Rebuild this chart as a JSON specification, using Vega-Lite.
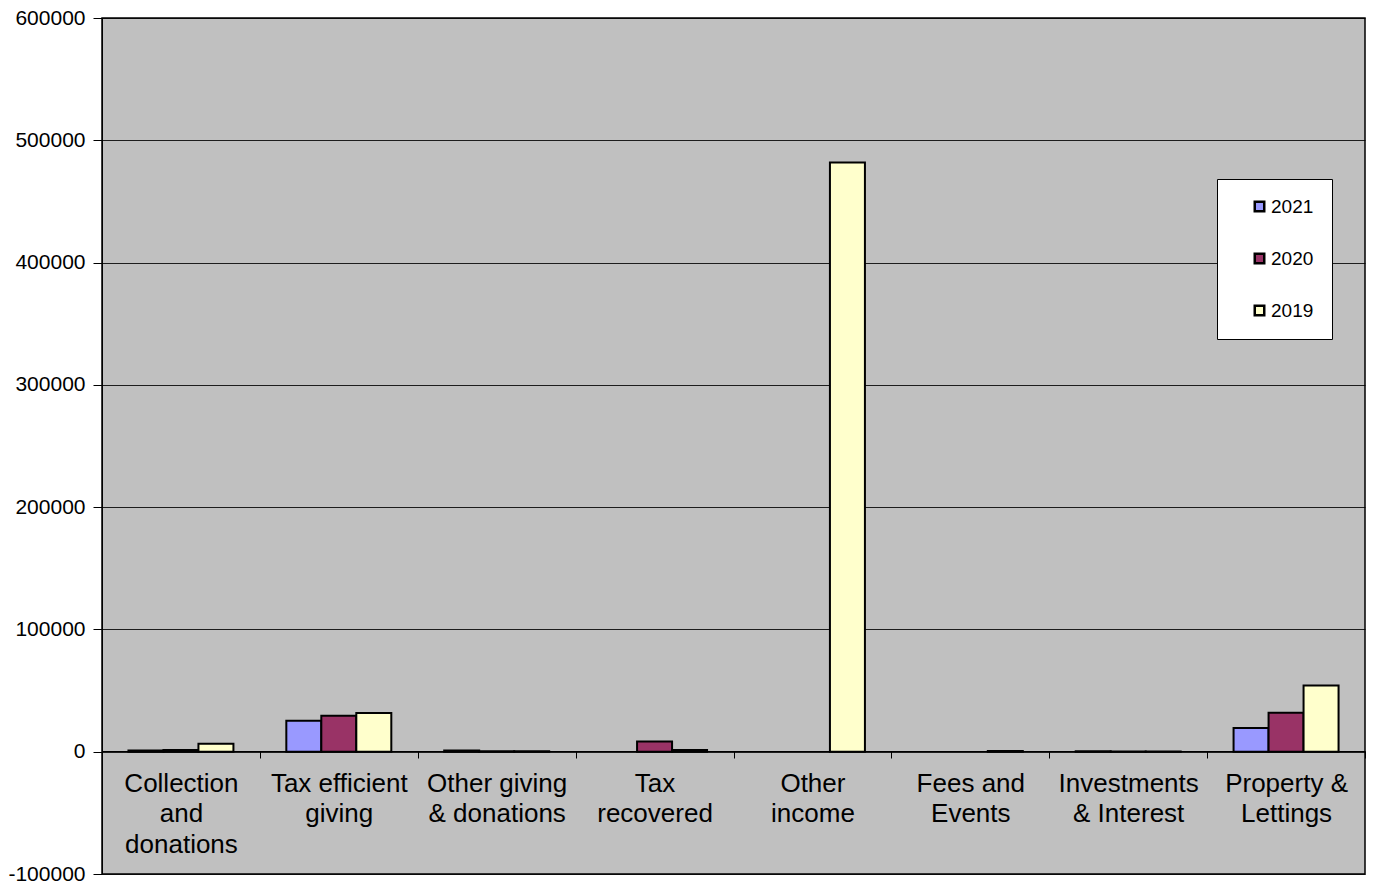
{
  "$schema": "https://vega.github.io/schema/vega-lite/v6.json",
  "width": 1263,
  "height": 856,
  "autosize": {"type": "none"},
  "padding": {"left": 102, "top": 18, "right": 8, "bottom": 12},
  "background": "white",
  "config": {
    "font": "Liberation Sans",
    "view": {"fill": "#C0C0C0", "stroke": "black", "strokeWidth": 1.5}
  },
  "data": {
    "values": [
      {"category": "Collection|and|donations", "year": "2021", "value": 900},
      {"category": "Collection|and|donations", "year": "2020", "value": 1300},
      {"category": "Collection|and|donations", "year": "2019", "value": 6600},
      {"category": "Tax efficient|giving", "year": "2021", "value": 25300},
      {"category": "Tax efficient|giving", "year": "2020", "value": 29400},
      {"category": "Tax efficient|giving", "year": "2019", "value": 31600},
      {"category": "Other giving|& donations", "year": "2021", "value": 1000},
      {"category": "Other giving|& donations", "year": "2020", "value": 300},
      {"category": "Other giving|& donations", "year": "2019", "value": 300},
      {"category": "Tax|recovered", "year": "2020", "value": 8400},
      {"category": "Tax|recovered", "year": "2019", "value": 1500},
      {"category": "Other|income", "year": "2019", "value": 481800},
      {"category": "Fees and|Events", "year": "2019", "value": 500},
      {"category": "Investments|& Interest", "year": "2021", "value": 300},
      {"category": "Investments|& Interest", "year": "2020", "value": 200},
      {"category": "Investments|& Interest", "year": "2019", "value": 200},
      {"category": "Property &|Lettings", "year": "2021", "value": 19400},
      {"category": "Property &|Lettings", "year": "2020", "value": 31900},
      {"category": "Property &|Lettings", "year": "2019", "value": 54200}
    ]
  },
  "mark": {"type": "bar", "stroke": "black", "strokeWidth": 2},
  "encoding": {
    "x": {
      "field": "category",
      "type": "nominal",
      "sort": ["Collection|and|donations", "Tax efficient|giving", "Other giving|& donations", "Tax|recovered", "Other|income", "Fees and|Events", "Investments|& Interest", "Property &|Lettings"],
      "scale": {"paddingInner": 0.335, "paddingOuter": 0.1675},
      "axis": {
        "title": null,
        "offset": -123,
        "labelAngle": 0,
        "labelExpr": "split(datum.label, '|')",
        "labelFontSize": 26,
        "labelLineHeight": 30.5,
        "labelColor": "black",
        "labelPadding": 12,
        "labelLimit": 300,
        "tickOffset": 79,
        "labelOffset": -79,
        "tickSize": 7,
        "tickColor": "black",
        "domainColor": "black",
        "domainWidth": 1,
        "grid": false
      }
    },
    "xOffset": {
      "field": "year",
      "type": "nominal",
      "sort": ["2021", "2020", "2019"],
      "scale": {"paddingInner": 0, "paddingOuter": 0}
    },
    "y": {
      "field": "value",
      "type": "quantitative",
      "scale": {"domain": [-100000, 600000], "nice": false, "zero": false},
      "axis": {
        "title": null,
        "values": [-100000, 0, 100000, 200000, 300000, 400000, 500000, 600000],
        "labelExpr": "'' + datum.value",
        "labelFontSize": 21,
        "labelColor": "black",
        "labelPadding": 8,
        "tickSize": 9,
        "tickColor": "black",
        "domainColor": "black",
        "grid": true,
        "gridColor": "black",
        "gridWidth": 1,
        "gridOpacity": 0.85
      }
    },
    "color": {
      "field": "year",
      "type": "nominal",
      "scale": {"domain": ["2021", "2020", "2019"], "range": ["#9999FF", "#993366", "#FFFFCC"]},
      "legend": {
        "title": null,
        "orient": "none",
        "legendX": 1115,
        "legendY": 161,
        "fillColor": "white",
        "strokeColor": "black",
        "padding": 18,
        "symbolOffset": 15,
        "symbolType": "square",
        "symbolSize": 90,
        "symbolStrokeColor": "black",
        "symbolStrokeWidth": 2.5,
        "labelFontSize": 19,
        "labelColor": "black",
        "labelOffset": 2,
        "labelExpr": "datum.label + '\u00a0\u00a0\u00a0\u00a0\u00a0\u00a0'",
        "rowPadding": 31
      }
    }
  }
}
